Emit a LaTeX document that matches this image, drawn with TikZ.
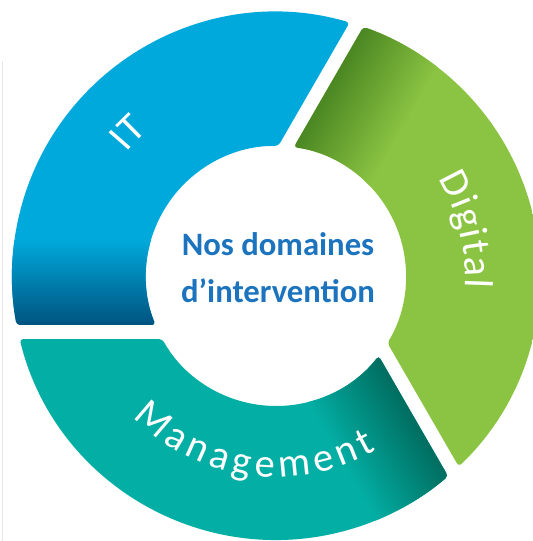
\documentclass[tikz,border=0pt]{standalone}
\usepackage{fontspec}
\setmainfont{Carlito}
\usetikzlibrary{decorations.text}

\definecolor{itblue}{RGB}{0,169,219}
\definecolor{itdark}{RGB}{0,82,126}
\definecolor{diglight}{RGB}{139,196,66}
\definecolor{digdark}{RGB}{74,134,34}
\definecolor{mgtlight}{RGB}{3,174,164}
\definecolor{mgtdark}{RGB}{0,108,94}
\definecolor{titleblue}{RGB}{28,115,190}

\newcommand{\labelfont}{\color{white}\fontsize{23}{27}\selectfont}

\begin{document}
\begin{tikzpicture}[x=0.02cm, y=0.02cm,
    title/.style={font=\bfseries\fontsize{18.6}{26.8}\selectfont, text=titleblue, align=center, inner sep=0pt},
    ringlabel/.style={decorate, decoration={text along path, text={|\labelfont|#1}, text align=fit to path}},
    shortlabel/.style={decorate, decoration={text along path, text={|\labelfont|#1}, text align=center}}]

    \useasboundingbox (-276,-265) rectangle (257,276);
    \clip (-276,-265) rectangle (257,276);

    % faint rule at the left edge
    \draw[black!10, line width=0.5pt] (-274,-265) -- (-274,215);

    % the three parts of the ring: IT, Management (+120), Digital (+240)
    \foreach \ang/\light/\dark in {0/itblue/itdark, 120/mgtlight/mgtdark, 240/diglight/digdark}{
        \begin{scope}[transform canvas={rotate=\ang}]
            \clip[rounded corners=2pt] (73.81:264) arc[start angle=73.81, end angle=190.69, radius=264]
                -- (202.14:130) arc[start angle=202.14, end angle=88.99, radius=130] -- cycle;
            \fill[\light] (-270,-50) rectangle (270,270);
            \shade[top color=\light, bottom color=\dark] (-270,-50) rectangle (270,36);
        \end{scope}
    }

    \node[title] (domaines) at (2,8) {Nos domaines\\d’intervention};

    \path[shortlabel=IT] (152:194) arc[start angle=152, end angle=120, radius=194];
    \path[ringlabel=Digital] (31:189) arc[start angle=31, end angle=-3.5, radius=189];
    \path[ringlabel=Management] (224.5:201) arc[start angle=224.5, end angle=300, radius=201];
\end{tikzpicture}
\end{document}
